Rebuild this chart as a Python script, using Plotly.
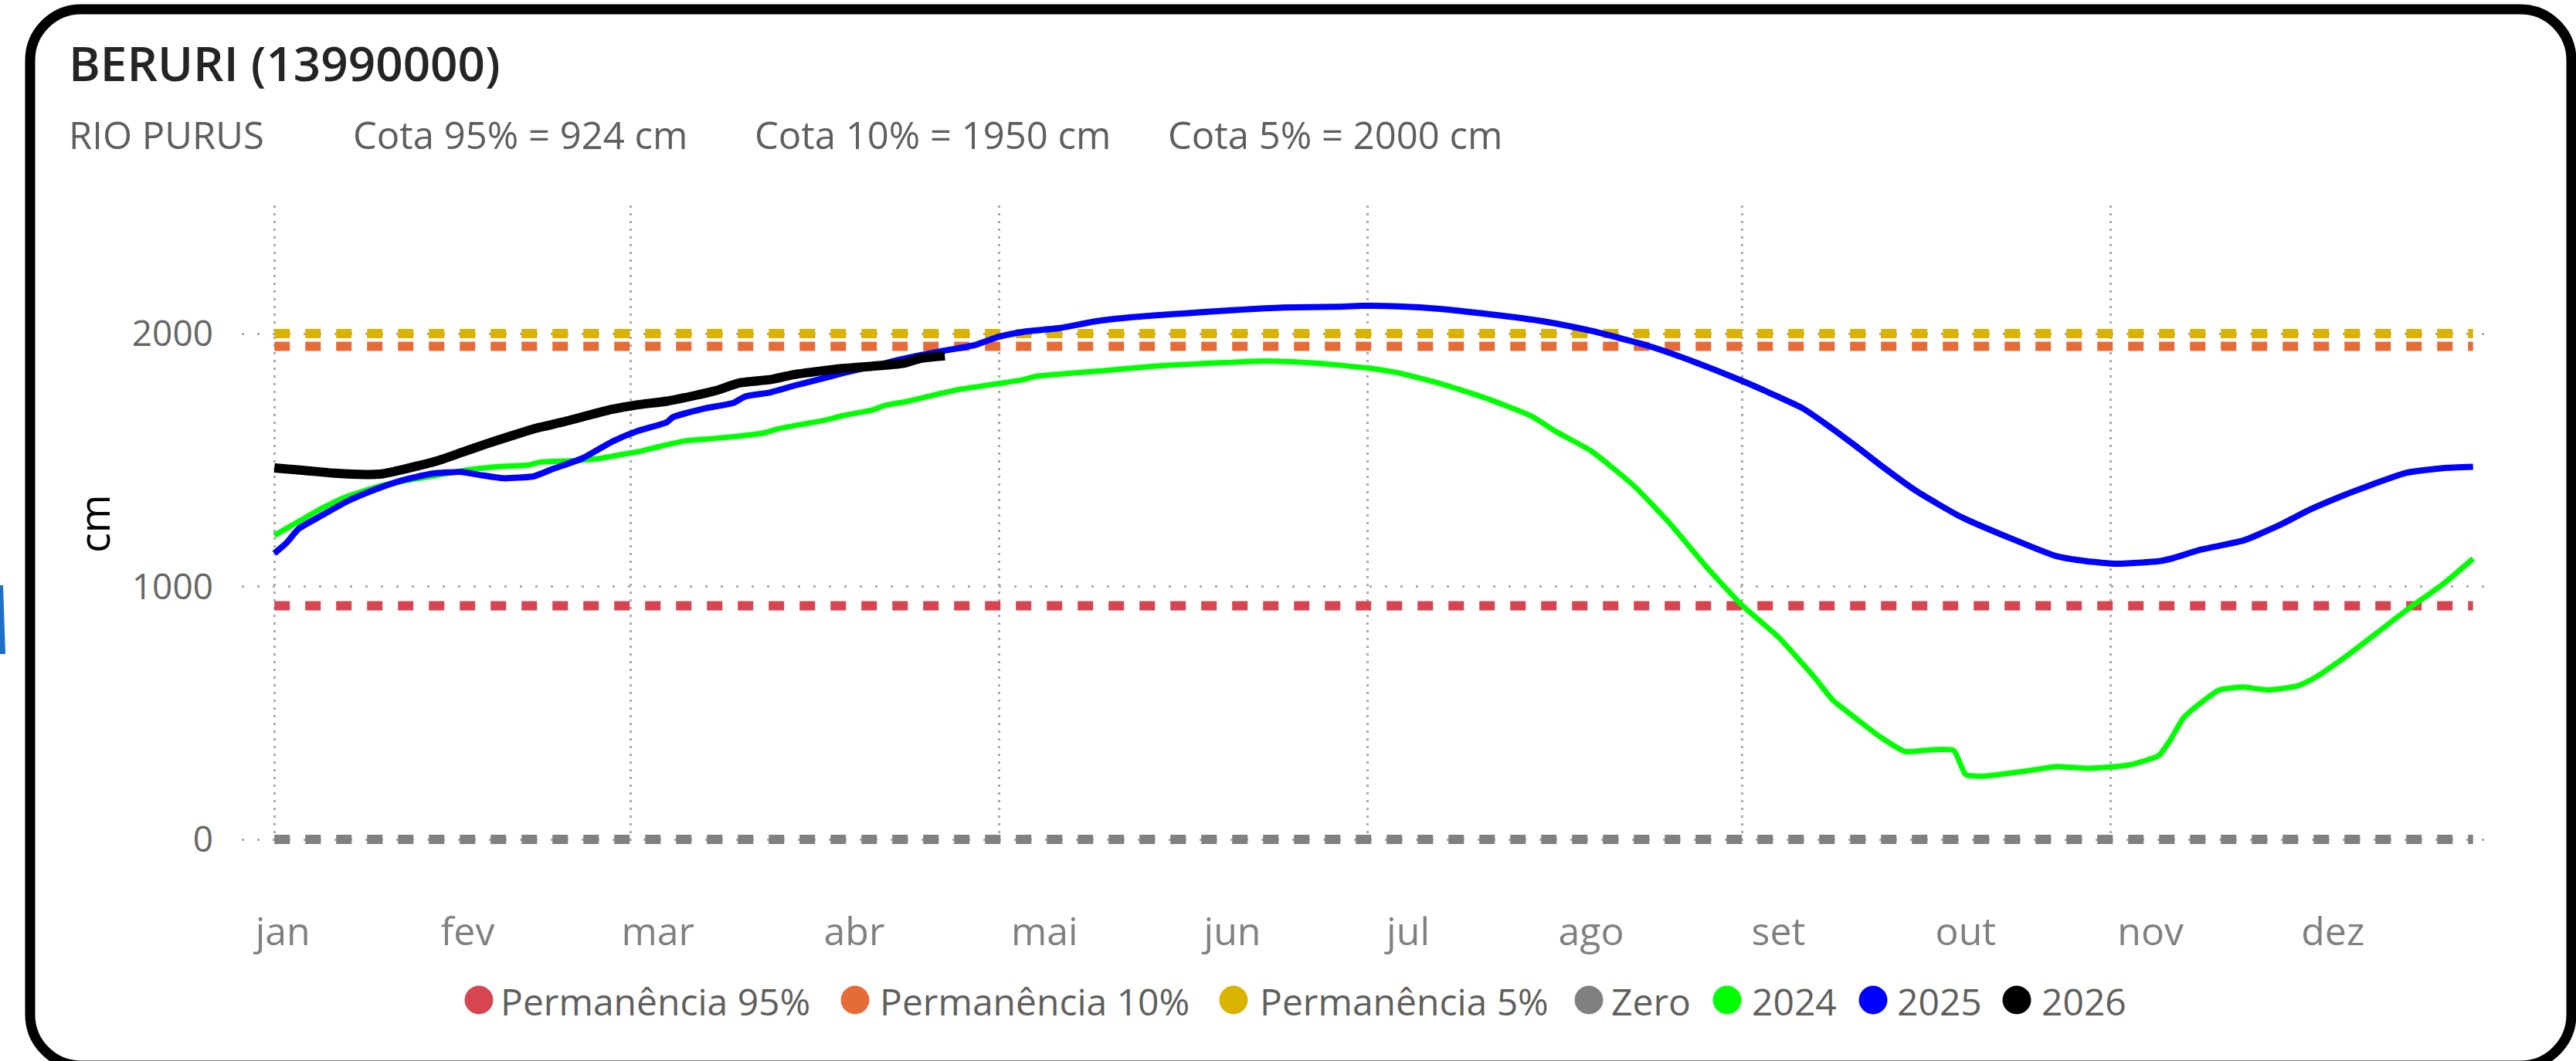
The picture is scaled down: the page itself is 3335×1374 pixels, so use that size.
import plotly.graph_objects as go

W, H = 3335, 1374
ML, MR, MT, MB = 313, 102, 266, 279
PW, PH = W - ML - MR, H - MT - MB

# dia do ano (0 = 1 de janeiro) e cota em cm
dias_2024 = [0, 4, 8, 12, 17, 22, 27, 32, 37, 42, 44, 49, 54, 57, 60, 64, 68, 73, 77, 81, 83, 87, 91,
             94, 99, 101, 105, 110, 114, 120, 124, 126, 130, 137, 146, 154, 164, 172, 181, 186, 193,
             201, 208, 212, 218, 225, 231, 237, 243, 249, 255, 258, 262, 266, 270, 273, 278, 280, 283,
             288, 291, 295, 300, 307, 312, 314, 316, 319, 322, 326, 330, 335, 338, 343, 348, 353, 359, 364]
cota_2024 = [1202, 1257, 1311, 1356, 1394, 1420, 1440, 1461, 1474, 1480, 1492, 1497, 1507, 1520, 1532,
             1555, 1576, 1586, 1595, 1607, 1621, 1640, 1657, 1675, 1698, 1716, 1733, 1762, 1782, 1803,
             1818, 1831, 1840, 1853, 1872, 1882, 1892, 1884, 1864, 1845, 1803, 1741, 1675, 1615, 1536,
             1400, 1250, 1080, 925, 800, 640, 551, 475, 403, 347, 352, 352, 256, 250, 264, 274, 288, 281,
             294, 332, 398, 479, 541, 591, 602, 591, 607, 642, 724, 815, 907, 1009, 1110]

dias_2025 = [0, 2, 4, 8, 12, 16, 21, 26, 31, 34, 38, 43, 46, 51, 56, 60, 65, 66, 71, 76, 78, 82, 86, 90,
             94, 99, 103, 107, 111, 116, 120, 124, 130, 136, 142, 150, 159, 167, 176, 180, 186, 193, 201,
             210, 218, 227, 235, 243, 249, 253, 257, 262, 266, 272, 279, 287, 295, 300, 305, 312, 314,
             319, 326, 332, 337, 342, 346, 353, 359, 364]
cota_2025 = [1131, 1172, 1228, 1283, 1336, 1377, 1419, 1446, 1453, 1441, 1428, 1436, 1464, 1507, 1574,
             1614, 1650, 1670, 1703, 1726, 1752, 1767, 1794, 1818, 1843, 1871, 1894, 1915, 1933, 1955,
             1988, 2007, 2022, 2049, 2065, 2079, 2093, 2103, 2106, 2110, 2108, 2098, 2077, 2049, 2011,
             1955, 1889, 1813, 1750, 1705, 1640, 1552, 1478, 1375, 1278, 1195, 1120, 1100, 1090, 1100,
             1110, 1146, 1182, 1243, 1304, 1355, 1392, 1450, 1468, 1473]

dias_2026 = [0, 5, 10, 15, 18, 22, 27, 31, 35, 39, 43, 48, 52, 56, 60, 65, 69, 73, 77, 82, 86, 90, 94,
             99, 104, 107, 111]
cota_2026 = [1469, 1459, 1448, 1443, 1446, 1467, 1497, 1530, 1563, 1594, 1624, 1652, 1677, 1701, 1718,
             1733, 1752, 1774, 1805, 1818, 1838, 1851, 1862, 1871, 1882, 1902, 1912]

dias_ref = [0, 364]
nomes_ref = ['Permanência 95%', 'Permanência 10%', 'Permanência 5%', 'Zero']
cotas_ref = [924, 1950, 2000, 0]
cores_ref = ['#D64550', '#E66C37', '#D9B300', '#808080']

anos = ['2024', '2025', '2026']
cores_anos = ['#00FF00', '#0000FF', '#000000']
larguras_anos = [7, 8, 12]

meses = ['jan', 'fev', 'mar', 'abr', 'mai', 'jun', 'jul', 'ago', 'set', 'out', 'nov', 'dez']
pos_meses = [1.4, 32, 63.5, 96, 127.5, 158.6, 187.7, 218, 249, 280, 310.6, 340.8]
grade_x = [0, 59, 120, 181, 243, 304]

titulo = 'BERURI (13990000)'
subtitulo = ['RIO PURUS', 'Cota 95% = 924 cm', 'Cota 10% = 1950 cm', 'Cota 5% = 2000 cm']

FONT = 'Open Sans, Segoe UI, sans-serif'


def px(x):
    return (x - ML) / PW


def py(y):
    return (MT + PH - y) / PH


fig = go.Figure()

for nome, cota, cor in zip(nomes_ref, cotas_ref, cores_ref):
    fig.add_trace(go.Scatter(x=dias_ref, y=[cota, cota], mode='lines', name=nome,
                             line=dict(color=cor, width=12, dash='20px,20px')))

series = [(dias_2024, cota_2024), (dias_2025, cota_2025), (dias_2026, cota_2026)]
for ano, (d, c), cor, lw in zip(anos, series, cores_anos, larguras_anos):
    fig.add_trace(go.Scatter(x=d, y=c, mode='lines', name=ano,
                             line=dict(color=cor, width=lw, shape='spline', smoothing=0.5)))

fig.update_traces(showlegend=False, hoverinfo='skip')

fig.update_xaxes(range=[-5.4, 368.0], tickmode='array', tickvals=pos_meses, ticktext=meses,
                 showgrid=False, zeroline=False, showline=False, ticks='',
                 ticklabelstandoff=78,
                 tickfont=dict(family=FONT, size=50, color='#808080'),
                 minor=dict(tickmode='array', tickvals=grade_x, showgrid=True,
                            gridcolor='#AAAAAA', gridwidth=3, griddash='3px,7px', ticks=''))
fig.update_yaxes(range=[-24.4, 2507], tickmode='array', tickvals=[0, 1000, 2000],
                 showgrid=True, gridcolor='#AAAAAA', gridwidth=3, griddash='3px,17px',
                 zeroline=False, showline=False, ticks='', ticklabelstandoff=36,
                 tickfont=dict(family=FONT, size=46, color='#666666'))

anns = [
    dict(text=titulo, x=px(87), y=py(81), xanchor='left', yanchor='middle',
         font=dict(family=FONT, size=62, color='#252423', weight=600)),
    dict(text='cm', x=px(121), y=py(678), textangle=-90, xanchor='center', yanchor='middle',
         font=dict(family=FONT, size=54, color='#000000')),
]
for txt, x0 in zip(subtitulo, [87, 455, 975, 1510]):
    anns.append(dict(text=txt, x=px(x0), y=py(174), xanchor='left', yanchor='middle',
                     font=dict(family=FONT, size=49, color='#605E5C')))

# legenda desenhada à mão (círculos grandes como no original)
leg_nomes = nomes_ref + anos
leg_cores = cores_ref + cores_anos
leg_circ = [620, 1107, 1597, 2057, 2236, 2425, 2611]
leg_txt = [646, 1137, 1629, 2084, 2266, 2454, 2641]
shapes = []
for nome, cor, cx, tx in zip(leg_nomes, leg_cores, leg_circ, leg_txt):
    rr = 18.5
    shapes.append(dict(type='circle', xref='paper', yref='paper', x0=px(cx - rr), x1=px(cx + rr),
                       y0=py(1295 + rr), y1=py(1295 - rr), fillcolor=cor, line=dict(width=0)))
    anns.append(dict(text=nome, x=px(tx), y=py(1296), xanchor='left', yanchor='middle',
                     font=dict(family=FONT, size=48, color='#605E5C')))

for a in anns:
    a.update(xref='paper', yref='paper', showarrow=False)

# moldura arredondada
x0, x1, y0, y1, r = 39, 3329, 12, 1380, 66
k = 0.5523 * r
pts = [('M', [(x0 + r, y0)]), ('L', [(x1 - r, y0)]),
       ('C', [(x1 - r + k, y0), (x1, y0 + r - k), (x1, y0 + r)]), ('L', [(x1, y1 - r)]),
       ('C', [(x1, y1 - r + k), (x1 - r + k, y1), (x1 - r, y1)]), ('L', [(x0 + r, y1)]),
       ('C', [(x0 + r - k, y1), (x0, y1 - r + k), (x0, y1 - r)]), ('L', [(x0, y0 + r)]),
       ('C', [(x0, y0 + r - k), (x0 + r - k, y0), (x0 + r, y0)])]
path = ' '.join(cmd + ' ' + ' '.join(f'{px(a):.5f},{py(b):.5f}' for a, b in p) for cmd, p in pts) + ' Z'
shapes.append(dict(type='path', xref='paper', yref='paper', path=path,
                   line=dict(color='#000000', width=13)))
# pedaço de outro visual na borda esquerda
sl = [(0, 758), (4, 758), (7, 847), (0, 847)]
shapes.append(dict(type='path', xref='paper', yref='paper', fillcolor='#1E6FC8', line=dict(width=0),
                   path='M ' + ' L '.join(f'{px(a):.5f},{py(b):.5f}' for a, b in sl) + ' Z'))

fig.update_layout(width=W, height=H, margin=dict(l=ML, r=MR, t=MT, b=MB),
                  paper_bgcolor='white', plot_bgcolor='white',
                  annotations=anns, shapes=shapes, showlegend=False)

fig.write_html('out.html', config={'displayModeBar': False},
               post_script="document.body.style.margin='0';")
